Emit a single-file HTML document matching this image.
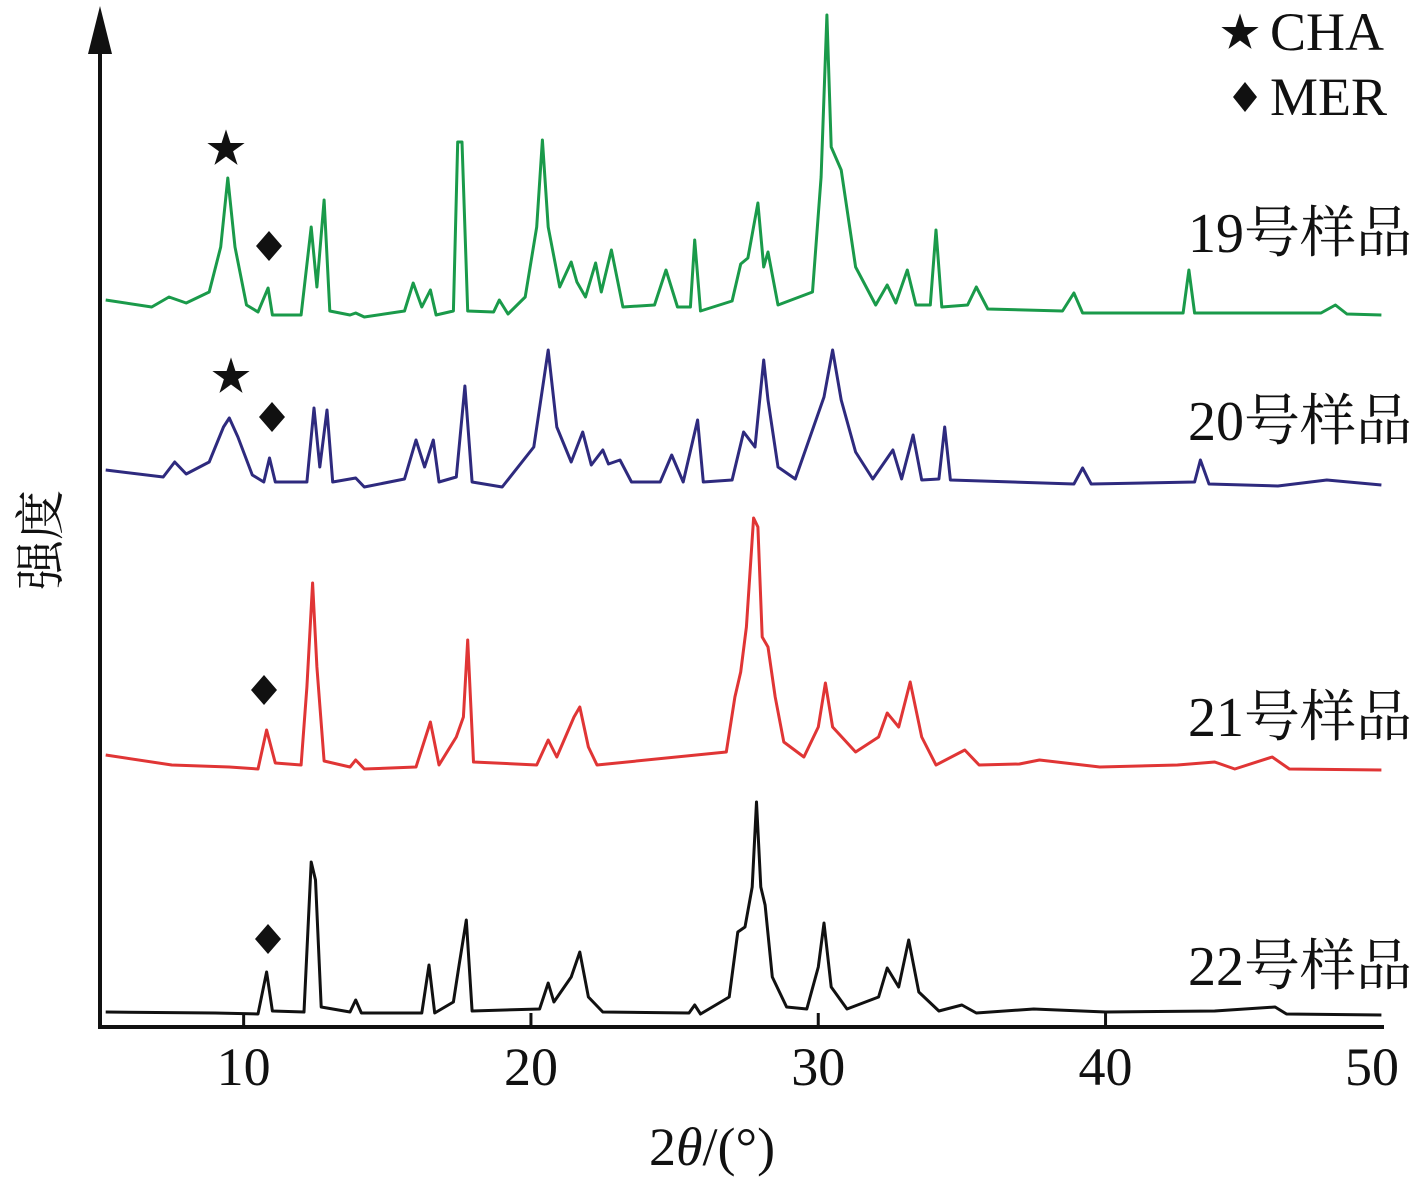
<!DOCTYPE html>
<html><head><meta charset="utf-8"><style>
html,body{margin:0;padding:0;background:#fff}
svg text{font-family:"Liberation Serif","Noto Serif CJK SC",serif;fill:#111}
</style></head><body>
<svg id="chart" width="1417" height="1181" viewBox="0 0 1417 1181" xmlns="http://www.w3.org/2000/svg">
<g id="series"></g>
<g id="axes">
<line x1="100" y1="40" x2="100" y2="1029" stroke="#111" stroke-width="4"/>
<polygon points="100,6 88,54 112,54" fill="#111"/>
<line x1="98" y1="1027" x2="1384" y2="1027" stroke="#111" stroke-width="4"/>
</g>
<g id="ticks"></g>
<text x="712" y="1165" font-size="54" text-anchor="middle">2<tspan font-style="italic">θ</tspan>/(°)</text>
<text transform="translate(58,540) rotate(-90)" font-size="50" text-anchor="middle">强度</text>
<text x="1412" y="252" font-size="56" text-anchor="end">19号样品</text>
<text x="1412" y="440" font-size="56" text-anchor="end">20号样品</text>
<text x="1412" y="736" font-size="56" text-anchor="end">21号样品</text>
<text x="1412" y="985" font-size="56" text-anchor="end">22号样品</text>
<g>
<text x="1240" y="46" font-size="40" text-anchor="middle">★</text>
<text x="1270" y="50" font-size="54">CHA</text>
<polygon points="1245,82 1257,97 1245,112 1233,97" fill="#111"/>
<text x="1270" y="115" font-size="54">MER</text>
</g>
<g>
<text x="226" y="162" font-size="40" text-anchor="middle">★</text>
<text x="231" y="390" font-size="40" text-anchor="middle">★</text>
<polygon points="269,231 282,246 269,261 256,246" fill="#111"/>
<polygon points="272,402 285,417 272,432 259,417" fill="#111"/>
<polygon points="264,675 277,690 264,705 251,690" fill="#111"/>
<polygon points="268,924 281,939 268,954 255,939" fill="#111"/>
</g>
</svg>
<script>
const tickValues=[10,20,30,40,50];
const s19=[[5.2,727],[6.8,720],[7.4,730],[8.0,724],[8.8,735],[9.2,780],[9.45,849],[9.7,780],[10.1,722],[10.5,715],[10.85,739],[11.0,712],[12.0,712],[12.35,800],[12.55,740],[12.8,827],[13.0,716],[13.7,712],[13.9,714],[14.2,710],[15.6,716],[15.9,744],[16.2,720],[16.5,737],[16.7,712],[17.3,716],[17.45,885],[17.6,885],[17.8,716],[18.7,715],[18.9,727],[19.2,713],[19.8,730],[20.2,800],[20.4,887],[20.6,800],[21.0,740],[21.4,765],[21.6,745],[21.9,730],[22.25,764],[22.45,735],[22.8,777],[23.2,720],[24.3,722],[24.7,757],[25.1,720],[25.55,720],[25.7,787],[25.9,716],[27.0,726],[27.3,763],[27.55,769],[27.9,824],[28.1,760],[28.25,775],[28.6,722],[29.8,735],[30.1,850],[30.3,1012],[30.45,880],[30.8,857],[31.3,760],[32.0,722],[32.4,742],[32.7,724],[33.1,757],[33.4,722],[33.9,722],[34.1,797],[34.3,720],[35.2,722],[35.5,740],[35.9,718],[38.5,716],[38.9,734],[39.2,714],[42.7,714],[42.9,757],[43.1,714],[47.5,714],[48.0,722],[48.4,713],[49.6,712]];
const s20=[[5.2,557],[7.2,550],[7.6,565],[8.0,553],[8.8,565],[9.3,600],[9.5,609],[9.8,590],[10.3,552],[10.7,545],[10.9,569],[11.1,545],[12.2,545],[12.45,619],[12.65,560],[12.9,617],[13.1,545],[13.9,549],[14.2,540],[15.6,548],[16.0,587],[16.3,560],[16.6,587],[16.8,545],[17.4,550],[17.7,641],[17.95,545],[19.0,540],[20.1,580],[20.6,677],[20.9,600],[21.4,565],[21.8,595],[22.1,562],[22.5,577],[22.7,563],[23.1,567],[23.5,545],[24.5,545],[24.9,572],[25.3,545],[25.8,607],[26.0,545],[27.0,547],[27.4,595],[27.8,580],[28.1,667],[28.25,627],[28.6,560],[29.2,548],[30.2,630],[30.5,677],[30.8,627],[31.3,575],[31.9,548],[32.6,577],[32.9,548],[33.3,592],[33.6,547],[34.2,548],[34.4,600],[34.6,547],[38.9,543],[39.2,559],[39.5,543],[43.1,545],[43.3,567],[43.6,543],[46.0,541],[47.7,547],[49.6,542]];
const s21=[[5.2,272],[7.5,262],[9.5,260],[10.5,258],[10.8,297],[11.1,264],[12.0,262],[12.2,340],[12.4,444],[12.55,360],[12.8,266],[13.7,260],[13.9,267],[14.2,258],[16.0,260],[16.5,305],[16.8,262],[17.4,290],[17.65,310],[17.8,387],[18.0,265],[20.2,262],[20.6,287],[20.9,270],[21.5,310],[21.7,320],[22.0,280],[22.3,262],[26.8,275],[27.1,330],[27.3,355],[27.5,400],[27.75,509],[27.9,500],[28.05,390],[28.25,380],[28.5,330],[28.8,285],[29.5,270],[30.0,300],[30.25,344],[30.5,300],[31.3,275],[32.1,290],[32.4,314],[32.8,300],[33.2,345],[33.6,290],[34.1,262],[35.1,277],[35.6,262],[37.0,263],[37.7,267],[39.8,260],[42.5,262],[43.8,265],[44.5,258],[45.8,270],[46.4,258],[49.6,257]];
const s22=[[5.2,15],[9.0,14],[10.5,13],[10.8,55],[11.0,16],[12.1,15],[12.35,165],[12.5,147],[12.7,20],[13.7,15],[13.9,27],[14.1,14],[16.2,14],[16.45,62],[16.65,14],[17.3,25],[17.5,62],[17.75,107],[17.95,16],[20.3,18],[20.6,44],[20.8,25],[21.4,50],[21.7,75],[22.0,30],[22.5,15],[25.5,14],[25.7,22],[25.9,13],[26.9,30],[27.2,95],[27.45,100],[27.7,140],[27.85,225],[28.0,140],[28.15,122],[28.4,50],[28.9,20],[29.6,18],[30.0,60],[30.2,104],[30.45,40],[31.0,18],[32.1,30],[32.4,59],[32.8,40],[33.15,87],[33.5,35],[34.2,16],[35.0,22],[35.5,14],[37.5,18],[40.0,15],[43.8,16],[45.9,20],[46.3,13],[49.6,12]];
const seriesNames=["sample-19","sample-20","sample-21","sample-22"];
const seriesColors=["#1a9a4a","#2e2a7e","#e03535","#111111"];
const seriesData=[s19,s20,s21,s22];
function xs(a){return 100+(a-5)*28.73;}
function ys(v){return 1027-v;}
const NS="http://www.w3.org/2000/svg";
const g=document.getElementById('series');
seriesData.forEach(function(d,i){
  const p=document.createElementNS(NS,'polyline');
  p.setAttribute('points',d.map(function(q){return xs(q[0]).toFixed(1)+','+ys(q[1]).toFixed(1);}).join(' '));
  p.setAttribute('fill','none');
  p.setAttribute('stroke',seriesColors[i]);
  p.setAttribute('stroke-width','3');
  p.setAttribute('stroke-linejoin','round');
  
  
  g.appendChild(p);
});
const tg=document.getElementById('ticks');
tickValues.forEach(function(t){
  const x=xs(t);
  if(t<50){
    const l=document.createElementNS(NS,'line');
    l.setAttribute('x1',x);l.setAttribute('x2',x);
    l.setAttribute('y1',1013);l.setAttribute('y2',1027);
    l.setAttribute('stroke','#111');l.setAttribute('stroke-width','3');
    
    
    tg.appendChild(l);
  }
  const tx=document.createElementNS(NS,'text');
  tx.setAttribute('x',t===50?1372:x);
  tx.setAttribute('y',1085);
  tx.setAttribute('font-size','54');
  tx.setAttribute('text-anchor','middle');
  tx.textContent=t;
  
  
  tg.appendChild(tx);
});
</script>
</body></html>
